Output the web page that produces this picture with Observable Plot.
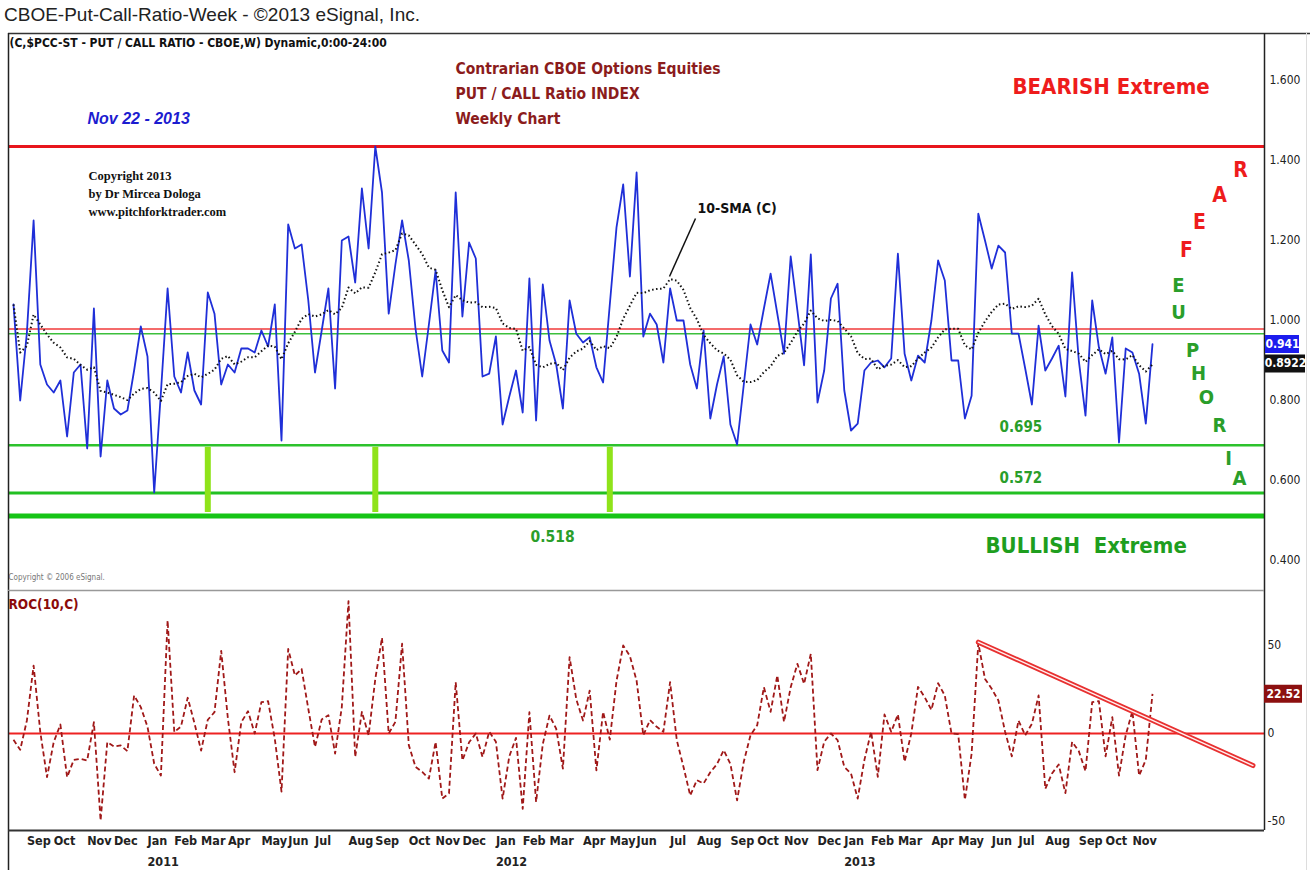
<!DOCTYPE html>
<html><head><meta charset="utf-8">
<script src="https://cdn.jsdelivr.net/npm/d3@7"></script>
<script src="https://cdn.jsdelivr.net/npm/@observablehq/plot@0.6"></script>
<style>
body{margin:0;background:#fff;width:1310px;height:870px;overflow:hidden;}
#title{height:28px;line-height:30px;padding-left:4px;font-family:"Liberation Sans",Arial,sans-serif;font-size:19px;color:#222;white-space:nowrap;}
</style></head><body>
<div id="title">CBOE-Put-Call-Ratio-Week - ©2013 eSignal, Inc.</div>
<div id="upper"></div><div id="lower"></div>
<script>
// ---------- data (weekly closes, first bar Fri 2010-08-20, last Fri 2013-11-22) ----------
const startDate = "2010-08-20";
const pcc = [
 1.04,0.80,0.97,1.25,0.89,0.84,0.82,0.85,0.71,0.87,
 0.89,0.68,1.03,0.66,0.85,0.78,0.765,0.775,0.875,0.985,
 0.91,0.57,0.82,1.08,0.86,0.82,0.92,0.825,0.79,1.07,
 1.017,0.84,0.89,0.87,0.93,0.93,0.92,0.975,0.935,1.04,
 0.70,1.24,1.18,1.19,1.05,0.87,0.975,1.08,0.83,1.20,
 1.21,1.095,1.33,1.18,1.435,1.32,1.017,1.14,1.25,1.15,
 0.98,0.86,0.99,1.125,0.925,0.895,1.32,1.01,1.195,1.155,
 0.86,0.867,0.96,0.74,0.81,0.875,0.77,1.105,0.75,1.09,
 0.95,0.89,0.78,1.05,0.967,0.945,0.958,0.883,0.845,1.04,
 1.233,1.34,1.11,1.37,0.96,1.017,0.99,0.895,1.08,1.0,
 1.0,0.89,0.83,0.975,0.755,0.84,0.91,0.74,0.69,0.84,
 0.99,0.94,1.03,1.117,1.017,0.917,1.16,1.025,0.888,1.165,
 0.795,0.875,1.055,1.092,0.825,0.725,0.742,0.875,0.895,0.90,
 0.883,0.905,1.167,0.917,0.85,0.912,0.895,1.0,1.15,1.10,
 0.90,0.90,0.755,0.812,1.267,1.20,1.13,1.187,1.17,0.967,
 0.967,0.88,0.79,0.987,0.875,0.905,0.937,0.81,1.12,0.90,
 0.762,1.05,0.933,0.867,0.958,0.695,0.93,0.92,0.867,0.742,
 0.941];
const roc = [
 -3.6,-9.3,7.4,38.6,0.8,-24.8,-4.9,5.1,-24.8,-15,
 -14.4,-15.3,6.4,-49.4,-4.9,-7.4,-6.8,-10,21.6,15,
 3.8,-17.2,-23.9,64.2,0.8,4,20.3,6,-9.7,7.8,
 12.1,47,8.5,-22,6.4,12.7,0,17.8,18.4,-3,
 -33,48,33,36.7,14,-7.6,8,10.4,-11.4,15,
 75.2,-13.3,12.3,-1,31,54.4,0,6.6,51,-6.6,
 -18.9,-21.8,-25.6,-4.8,-37,-34,29.2,-15.3,-5,0,
 -13.3,1,-4.7,-37,-13,-2.5,-42.8,12.1,-38.9,-6,
 10.2,2.7,-20,43.4,19.4,7.4,24.4,-21,12.3,-3.5,
 29.8,50,44,30,-1,7.6,3.8,1,29.2,-3.8,
 -19,-35.2,-26.5,-28.4,-22,-17.4,-9.5,-17.3,-38,-16,
 -1,4.7,26.3,12.3,33,6.6,26.3,39.6,28.2,45.3,
 -20.8,-4.7,0,-3.8,-19,-22.7,-37,-15,1,-24.6,
 10.8,1,10.8,-16,0,26.5,20.6,13.4,28.6,21.6,
 0,-0.4,-37.7,-11.5,51.3,31,25.4,18.75,1,-13,
 7.4,-1,5.5,21.6,-31.4,-22.7,-17.6,-33.9,-4.7,-10,
 -21.4,17.8,18.4,-13,9.3,-23.9,-1,12.7,-23.9,-15,
 22.52];
const upperTicks = [0.4, 0.6, 0.8, 1.0, 1.2, 1.4, 1.6];
const lowerTicks = [-50, 0, 50];
const bearishLevel = 1.435;
const redPivot = 0.979;
const greenPivot = 0.967;
const supportLevels = [0.688, 0.569, 0.511];
const supportLabels = ["0.695", "0.572", "0.518"];
const signalBars = ["2011-03-11", "2011-09-02", "2012-05-04"];
const signalBarSpan = [0.52, 0.683];
const rocTrend = [{date: "2013-05-24", roc: 51.9}, {date: "2014-03-07", roc: -18.2}];
const lastPcc = 0.941, lastPccLabel = "0.941";
const lastSma = 0.8922, lastSmaLabel = "0.8922";
const lastRoc = 22.52, lastRocLabel = "22.52";
const fearLetters = ["F", "E", "A", "R"];
const euphoriaLetters = ["E", "U", "P", "H", "O", "R", "I", "A"];

// ---------- layout ----------
const NARROW = '"Liberation Sans Narrow","Arial Narrow","DejaVu Sans Condensed",sans-serif';
const SANS = '"Liberation Sans",Arial,sans-serif';
const SERIF = '"Liberation Serif","Times New Roman",serif';
const W = 1310;
const LEFT = 8, RIGHT = 1264, FIRST = 13, LAST = 1152;
const UP_TOP = 33, LOW_TOP = 590;

const weeks = pcc.map((v, i) => ({date: d3.utcDay.offset(new Date(startDate), 7 * i), pcc: v, roc: roc[i]}));
const t0 = +weeks[0].date, t1 = +weeks[weeks.length - 1].date;
const msPerPx = (t1 - t0) / (LAST - FIRST);
const px2date = px => new Date(t0 + (px - FIRST) * msPerPx);
const xDomain = [px2date(LEFT), px2date(RIGHT)];
const upperDomain = [0.325, 1.7175];
const lowerDomain = [-55.11, 81.25];
const monthStarts = weeks.filter((d, i) => i > 0 && d.date.getUTCMonth() !== weeks[i - 1].date.getUTCMonth()).map(d => d.date);
const yearStarts = monthStarts.filter(d => d.getUTCMonth() === 0);

function note(text, px, py, top, opts = {}) {
  return Plot.text([text], {
    text: d => d, frameAnchor: "top-left", dx: px - LEFT, dy: py - top,
    textAnchor: "start", lineAnchor: "middle", fontFamily: NARROW, fontWeight: "bold", ...opts
  });
}

const fearPos = [[1186, 250], [1199, 222], [1219, 195], [1240, 170]];
const euphPos = [[1178, 285], [1178, 312], [1192, 350], [1198, 373], [1206, 397], [1219, 425], [1228, 458], [1239, 478]];
const trendData = rocTrend.map(d => ({date: new Date(d.date), roc: d.roc}));

const upper = Plot.plot({
  width: W, height: 562, marginTop: 5, marginBottom: 0, marginLeft: LEFT, marginRight: W - RIGHT,
  style: {fontFamily: NARROW, fontSize: "12px", background: "white", overflow: "visible", color: "#222"},
  x: {type: "utc", domain: xDomain, axis: null},
  y: {domain: upperDomain, axis: null},
  marks: [
    Plot.ruleY([bearishLevel], {stroke: "#e8161c", strokeWidth: 3}),
    Plot.ruleY([redPivot], {stroke: "#f03a3a", strokeWidth: 1.5}),
    Plot.ruleY([greenPivot], {stroke: "#3cbf3c", strokeWidth: 1.5}),
    Plot.ruleY([supportLevels[0]], {stroke: "#2dc22d", strokeWidth: 2.5}),
    Plot.ruleY([supportLevels[1]], {stroke: "#22c022", strokeWidth: 3}),
    Plot.ruleY([supportLevels[2]], {stroke: "#16c416", strokeWidth: 5}),
    Plot.ruleX(signalBars.map(d => new Date(d)), {y1: signalBarSpan[0], y2: signalBarSpan[1], stroke: "#8fe31a", strokeWidth: 6}),
    Plot.line(weeks, {x: "date", y: "pcc", stroke: "#1f2fd8", strokeWidth: 1.8}),
    Plot.line(weeks, Plot.windowY({k: 10, anchor: "end"}, {x: "date", y: "pcc", stroke: "#111", strokeWidth: 2, strokeDasharray: "1.5,2.5", strokeLinecap: "butt"})),
    Plot.link([0], {x1: () => px2date(669), y1: () => 1 - (276 - 320) / 400, x2: () => px2date(695), y2: () => 1 - (218 - 320) / 400, stroke: "#111", strokeWidth: 1.5}),
    // texts
    note("(C,$PCC-ST - PUT / CALL RATIO - CBOE,W) Dynamic,0:00-24:00", 9, 43, UP_TOP, {fontSize: 12, fill: "#111"}),
    note("Nov 22 - 2013", 87, 118, UP_TOP, {fontSize: 16, fontFamily: SANS, fontStyle: "italic", fill: "#1c1cd0"}),
    note("Copyright 2013\nby Dr Mircea Dologa\nwww.pitchforktrader.com", 88, 167, UP_TOP, {fontSize: 12.5, fontFamily: SERIF, lineAnchor: "top", lineHeight: 1.44, fill: "#111"}),
    note("Contrarian CBOE Options Equities\nPUT / CALL Ratio INDEX\nWeekly Chart", 455, 56, UP_TOP, {fontSize: 15.5, lineAnchor: "top", lineHeight: 1.6, fill: "#8b1c1c"}),
    note("BEARISH Extreme", 1012, 86, UP_TOP, {fontSize: 22, fill: "#ee1c1c"}),
    note("BULLISH\u00a0 Extreme", 985, 545, UP_TOP, {fontSize: 22, fill: "#1e9e1e"}),
    note("10-SMA (C)", 697, 208, UP_TOP, {fontSize: 14, fill: "#111"}),
    note(supportLabels[0], 999, 427, UP_TOP, {fontSize: 15, fill: "#2a9e2a"}),
    note(supportLabels[1], 999, 478, UP_TOP, {fontSize: 15, fill: "#2a9e2a"}),
    note(supportLabels[2], 530, 537, UP_TOP, {fontSize: 15.5, fill: "#2a9e2a"}),
    note("Copyright \u00a9 2006 eSignal.", 8, 577, UP_TOP, {fontSize: 8, fontWeight: "normal", fill: "#777"}),
    ...fearLetters.map((c, i) => note(c, fearPos[i][0], fearPos[i][1], UP_TOP, {fontSize: 21, textAnchor: "middle", fill: "#ee1c1c"})),
    ...euphoriaLetters.map((c, i) => note(c, euphPos[i][0], euphPos[i][1], UP_TOP, {fontSize: 20, textAnchor: "middle", fill: "#2a9e2a"})),
    // frame
    Plot.ruleY([upperDomain[1]], {x1: xDomain[0], x2: px2date(1310), stroke: "#333", strokeWidth: 1.5}),
    Plot.ruleX([xDomain[0]], {stroke: "#222", strokeWidth: 1.5}),
    Plot.ruleX([xDomain[1]], {stroke: "#222", strokeWidth: 1.5}),
    Plot.ruleY([upperDomain[0]], {stroke: "#999", strokeWidth: 1.5}),
    Plot.ruleX([px2date(1306)], {stroke: "#ddd", strokeWidth: 1}),
    Plot.axisY({anchor: "right", ticks: upperTicks, tickFormat: d3.format(".3f"), tickSize: 0, tickPadding: 5, label: null, fontSize: 12}),
    // last value tags
    Plot.ruleY([lastPcc], {x1: px2date(1265), x2: px2date(1299), stroke: "#1c1cee", strokeWidth: 18}),
    Plot.text([lastPcc], {y: d => d, frameAnchor: "right", dx: 18, text: () => lastPccLabel, textAnchor: "middle", fill: "white", fontSize: 12, fontWeight: "bold"}),
    Plot.ruleY([lastSma], {x1: px2date(1265), x2: px2date(1305), stroke: "#111", strokeWidth: 18}),
    Plot.text([lastSma], {y: d => d, frameAnchor: "right", dx: 21, text: () => lastSmaLabel, textAnchor: "middle", fill: "white", fontSize: 12, fontWeight: "bold"})
  ]
});

const lower = Plot.plot({
  width: W, height: 280, marginTop: 0, marginBottom: 40, marginLeft: LEFT, marginRight: W - RIGHT,
  style: {fontFamily: NARROW, fontSize: "12px", background: "white", overflow: "visible", color: "#222"},
  x: {type: "utc", domain: xDomain},
  y: {domain: lowerDomain, axis: null},
  marks: [
    Plot.ruleY([0], {stroke: "#ee2222", strokeWidth: 2}),
    Plot.line(weeks, {x: "date", y: "roc", stroke: "#a01818", strokeWidth: 1.8, strokeDasharray: "5,3", strokeLinecap: "butt"}),
    Plot.line(trendData, {x: "date", y: "roc", stroke: "#e83030", strokeWidth: 5}),
    Plot.line(trendData, {x: "date", y: "roc", stroke: "#fff0f0", strokeWidth: 1.4}),
    note("ROC(10,C)", 8, 604, LOW_TOP, {fontSize: 13.5, fill: "#8b0a0a"}),
    // frame
    Plot.ruleX([xDomain[0]], {y1: lowerDomain[1], y2: -78, stroke: "#222", strokeWidth: 1.5}),
    Plot.ruleX([xDomain[1]], {stroke: "#222", strokeWidth: 1.5}),
    Plot.ruleY([lowerDomain[0]], {stroke: "#333", strokeWidth: 2}),
    Plot.ruleY([lowerDomain[1]], {stroke: "#999", strokeWidth: 1}),
    Plot.ruleX([px2date(1306)], {y1: lowerDomain[1], y2: -78, stroke: "#ddd", strokeWidth: 1}),
    Plot.axisY({anchor: "right", ticks: lowerTicks, tickFormat: d => d, tickSize: 0, tickPadding: 3, label: null, fontSize: 12}),
    Plot.axisX({ticks: monthStarts, tickFormat: d3.utcFormat("%b"), tickSize: 0, tickPadding: 6, textAnchor: "start", label: null, fontSize: 12.5, fontWeight: "bold"}),
    Plot.axisX({ticks: yearStarts, tickFormat: d3.utcFormat("%Y"), tickSize: 0, tickPadding: 27, textAnchor: "start", label: null, fontSize: 12.5, fontWeight: "bold"}),
    Plot.ruleY([lastRoc], {x1: px2date(1264), x2: px2date(1302), stroke: "#8c1010", strokeWidth: 18}),
    Plot.text([lastRoc], {y: d => d, frameAnchor: "right", dx: 19, text: () => lastRocLabel, textAnchor: "middle", fill: "white", fontSize: 12, fontWeight: "bold"})
  ]
});

document.getElementById("upper").append(upper);
document.getElementById("lower").append(lower);
</script></body></html>
